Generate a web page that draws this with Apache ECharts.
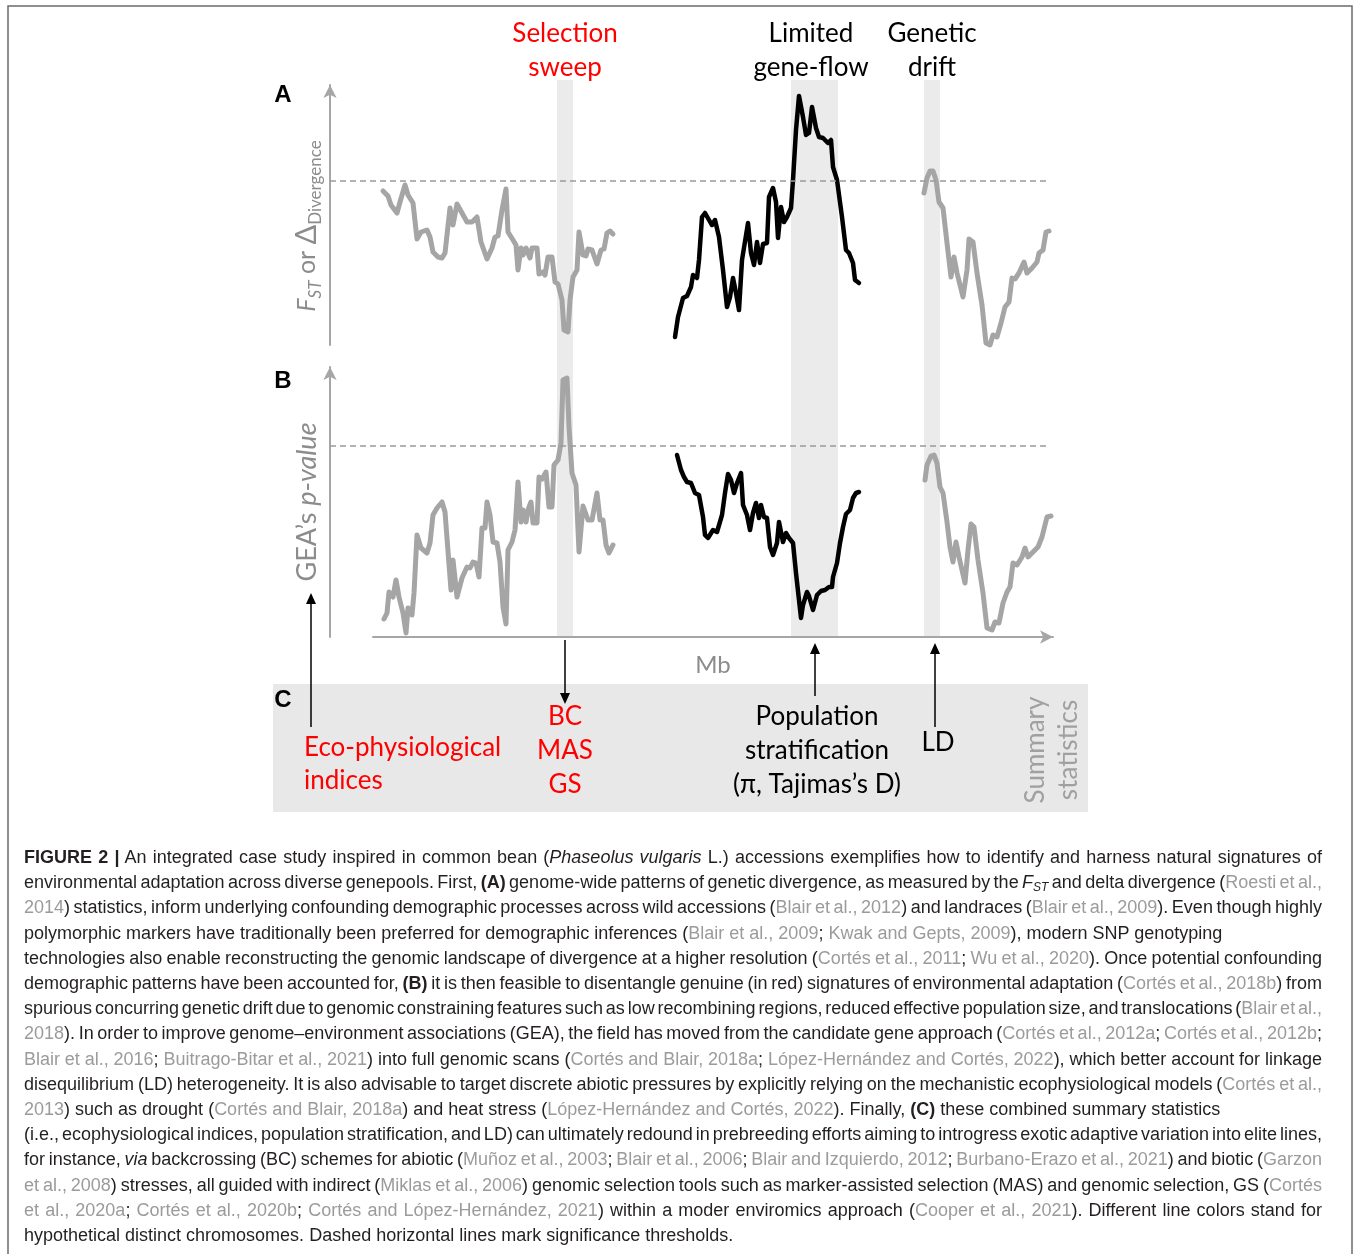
<!DOCTYPE html>
<html>
<head>
<meta charset="utf-8">
<title>Figure 2</title>
<script src="https://cdn.jsdelivr.net/npm/echarts@6/dist/echarts.min.js"></script>
<style>
body { margin: 0; background: #fff; }
#wrap { position: relative; width: 1354px; height: 1254px; overflow: hidden; }
#main { position: absolute; left: 0; top: 0; width: 1354px; height: 1254px; }
#cap { position: absolute; left: 24px; top: 845px; width: 1298px;
  font-family: "Liberation Sans", Arial, sans-serif; font-size: 18px; line-height: 25.2px; color: #231f20; }
#cap .ln { white-space: nowrap; }
#cap .g { color: #9b9b9b; }
#cap sub { font-size: 12px; line-height: 0; vertical-align: -3px; }
</style>
</head>
<body>
<div id="wrap">
  <div id="main"></div>
  <div id="cap">
    <div class="ln"><span class="in"><b>FIGURE 2 |</b> An integrated case study inspired in common bean (<i>Phaseolus vulgaris</i> L.) accessions exemplifies how to identify and harness natural signatures of</span></div>
    <div class="ln"><span class="in">environmental adaptation across diverse genepools. First, <b>(A)</b> genome-wide patterns of genetic divergence, as measured by the <i>F</i><sub><i>ST</i></sub> and delta divergence (<span class="g">Roesti et al.,</span></span></div>
    <div class="ln"><span class="in"><span class="g">2014</span>) statistics, inform underlying confounding demographic processes across wild accessions (<span class="g">Blair et al., 2012</span>) and landraces (<span class="g">Blair et al., 2009</span>). Even though highly</span></div>
    <div class="ln last"><span class="in">polymorphic markers have traditionally been preferred for demographic inferences (<span class="g">Blair et al., 2009</span>; <span class="g">Kwak and Gepts, 2009</span>), modern SNP genotyping</span></div>
    <div class="ln"><span class="in">technologies also enable reconstructing the genomic landscape of divergence at a higher resolution (<span class="g">Cortés et al., 2011</span>; <span class="g">Wu et al., 2020</span>). Once potential confounding</span></div>
    <div class="ln"><span class="in">demographic patterns have been accounted for, <b>(B)</b> it is then feasible to disentangle genuine (in red) signatures of environmental adaptation (<span class="g">Cortés et al., 2018b</span>) from</span></div>
    <div class="ln"><span class="in">spurious concurring genetic drift due to genomic constraining features such as low recombining regions, reduced effective population size, and translocations (<span class="g">Blair et al.,</span></span></div>
    <div class="ln"><span class="in"><span class="g">2018</span>). In order to improve genome–environment associations (GEA), the field has moved from the candidate gene approach (<span class="g">Cortés et al., 2012a</span>; <span class="g">Cortés et al., 2012b</span>;</span></div>
    <div class="ln"><span class="in"><span class="g">Blair et al., 2016</span>; <span class="g">Buitrago-Bitar et al., 2021</span>) into full genomic scans (<span class="g">Cortés and Blair, 2018a</span>; <span class="g">López-Hernández and Cortés, 2022</span>), which better account for linkage</span></div>
    <div class="ln"><span class="in">disequilibrium (LD) heterogeneity. It is also advisable to target discrete abiotic pressures by explicitly relying on the mechanistic ecophysiological models (<span class="g">Cortés et al.,</span></span></div>
    <div class="ln last"><span class="in"><span class="g">2013</span>) such as drought (<span class="g">Cortés and Blair, 2018a</span>) and heat stress (<span class="g">López-Hernández and Cortés, 2022</span>). Finally, <b>(C)</b> these combined summary statistics</span></div>
    <div class="ln"><span class="in">(i.e., ecophysiological indices, population stratification, and LD) can ultimately redound in prebreeding efforts aiming to introgress exotic adaptive variation into elite lines,</span></div>
    <div class="ln"><span class="in">for instance, <i>via</i> backcrossing (BC) schemes for abiotic (<span class="g">Muñoz et al., 2003</span>; <span class="g">Blair et al., 2006</span>; <span class="g">Blair and Izquierdo, 2012</span>; <span class="g">Burbano-Erazo et al., 2021</span>) and biotic (<span class="g">Garzon</span></span></div>
    <div class="ln"><span class="in"><span class="g">et al., 2008</span>) stresses, all guided with indirect (<span class="g">Miklas et al., 2006</span>) genomic selection tools such as marker-assisted selection (MAS) and genomic selection, GS (<span class="g">Cortés</span></span></div>
    <div class="ln"><span class="in"><span class="g">et al., 2020a</span>; <span class="g">Cortés et al., 2020b</span>; <span class="g">Cortés and López-Hernández, 2021</span>) within a moder enviromics approach (<span class="g">Cooper et al., 2021</span>). Different line colors stand for</span></div>
    <div class="ln last"><span class="in">hypothetical distinct chromosomes. Dashed horizontal lines mark significance thresholds.</span></div>
  </div>
</div>
<script>
// panel A: Fst / delta divergence along the genome (x in Mb, y arbitrary units)
var fstGray1 = [[1.0,15.4],[1.5,14.9],[1.8,14.0],[2.0,14.0],[2.4,13.2],[2.7,14.3],[3.2,16.0],[3.5,15.0],[3.7,15.2],[4.0,14.2],[4.4,10.6],[4.8,11.3],[5.4,11.5],[5.7,10.8],[6.0,9.3],[6.5,8.8],[6.9,8.7],[7.2,9.2],[7.7,13.7],[8.0,12.0],[8.4,14.1],[8.9,13.2],[9.4,12.3],[9.9,12.3],[10.4,12.8],[10.8,10.3],[11.0,10.2],[11.4,8.6],[11.9,9.7],[12.2,10.8],[12.5,10.9],[12.9,13.5],[13.3,15.6],[13.5,11.3],[14.0,10.5],[14.3,10.0],[14.5,7.5],[14.8,9.7],[15.0,9.0],[15.3,9.7],[15.7,8.7],[15.9,9.7],[16.4,9.7],[16.6,7.1],[17.0,7.3],[17.2,7.0],[17.5,8.8],[17.9,8.8],[18.2,6.3],[18.5,6.1],[18.9,4.5],[19.1,1.5],[19.5,1.3],[19.7,4.5],[20.0,6.8],[20.4,7.5],[20.6,11.3],[21.0,9.0],[21.3,8.9],[21.5,9.6],[21.9,9.5],[22.4,8.1],[22.8,9.5],[23.1,9.6],[23.4,11.2],[23.7,11.4],[24.0,11.1]];
var fstBlack = [[30.2,0.8],[30.5,2.8],[31.0,4.7],[31.4,4.9],[31.8,5.8],[32.0,7.0],[32.4,6.7],[32.6,8.5],[32.9,12.8],[33.2,13.2],[33.6,12.5],[33.9,12.0],[34.2,12.5],[34.6,10.8],[35.0,7.5],[35.4,3.8],[35.7,4.8],[36.0,6.7],[36.3,5.2],[36.6,3.5],[36.9,8.5],[37.5,12.2],[37.8,9.2],[38.1,8.0],[38.4,10.3],[38.7,8.2],[39.0,10.1],[39.4,10.2],[39.6,14.8],[40.0,15.7],[40.3,14.3],[40.5,10.7],[40.8,13.8],[41.1,12.3],[41.4,12.8],[41.8,13.7],[42.0,16.5],[42.3,21.5],[42.6,24.9],[43.0,22.8],[43.3,21.0],[43.6,21.2],[43.9,23.8],[44.3,21.7],[44.6,20.8],[45.0,20.7],[45.5,20.2],[45.8,20.5],[46.0,17.8],[46.4,16.5],[46.9,12.8],[47.3,9.5],[47.6,9.2],[48.0,8.2],[48.2,6.5],[48.6,6.2]];
var fstGray3 = [[55.1,15.2],[55.4,16.7],[55.7,17.4],[56.0,17.4],[56.3,16.5],[56.6,14.3],[57.0,13.7],[57.4,10.2],[57.8,6.8],[58.1,8.8],[58.4,7.2],[59.0,4.8],[59.4,7.5],[59.6,10.6],[60.0,10.3],[60.4,7.2],[60.9,4.0],[61.3,0.2],[61.7,0.0],[62.0,1.0],[62.4,0.8],[62.8,2.2],[63.2,3.8],[63.6,4.3],[63.9,6.7],[64.2,6.6],[64.6,7.2],[65.1,8.3],[65.4,7.2],[65.9,7.7],[66.4,8.3],[66.6,9.2],[67.0,9.5],[67.3,11.3],[67.6,11.4]];

// panel B: GEA p-value
var geaGray1 = [[1.1,1.8],[1.4,2.4],[1.6,4.5],[2.0,4.0],[2.3,5.7],[2.6,4.0],[3.0,2.4],[3.3,0.4],[3.5,2.9],[3.9,2.2],[4.1,4.4],[4.4,10.2],[4.8,8.9],[5.4,8.4],[5.7,9.4],[6.0,12.2],[6.4,12.9],[6.9,13.5],[7.2,12.5],[7.8,4.7],[8.0,7.7],[8.4,4.0],[8.9,5.9],[9.4,7.0],[9.7,6.9],[10.0,7.5],[10.3,7.4],[10.6,6.0],[10.9,10.9],[11.2,10.9],[11.4,13.5],[11.7,12.2],[12.0,9.5],[12.4,9.4],[12.7,7.5],[13.0,3.0],[13.3,1.3],[13.5,8.7],[13.9,9.5],[14.2,10.7],[14.5,15.5],[14.8,11.5],[15.0,12.7],[15.3,11.5],[15.5,12.7],[15.8,13.5],[16.0,11.4],[16.4,11.4],[16.6,16.0],[16.9,15.8],[17.3,16.5],[17.6,13.0],[17.9,13.0],[18.1,17.2],[18.5,17.7],[18.8,19.4],[19.0,25.7],[19.4,25.9],[19.6,21.0],[19.9,16.4],[20.3,15.2],[20.6,8.5],[21.0,13.1],[21.5,11.7],[21.9,11.7],[22.4,14.4],[22.7,11.7],[23.0,11.7],[23.3,9.2],[23.6,8.4],[24.0,9.2]];
var geaBlack = [[30.4,18.2],[30.8,16.7],[31.1,16.0],[31.4,15.5],[31.8,15.4],[32.2,14.4],[32.6,14.2],[33.0,12.0],[33.2,10.2],[33.5,9.9],[34.0,10.7],[34.4,10.5],[34.9,12.2],[35.2,14.4],[35.5,16.3],[35.8,15.7],[36.1,14.4],[36.4,15.4],[36.8,16.4],[37.0,13.2],[37.4,12.2],[37.7,10.7],[38.0,12.4],[38.3,13.4],[38.6,11.9],[38.8,13.2],[39.1,12.0],[39.4,11.9],[39.7,9.0],[40.0,8.2],[40.4,9.4],[40.6,11.5],[40.8,10.5],[41.0,9.5],[41.3,10.4],[41.6,9.9],[42.0,9.4],[42.3,6.4],[42.8,1.9],[43.0,3.2],[43.4,4.5],[43.6,4.1],[44.0,2.7],[44.4,4.2],[44.8,4.6],[45.2,4.7],[45.6,5.0],[45.9,5.0],[46.0,6.0],[46.4,7.4],[46.7,9.4],[47.0,11.0],[47.3,12.3],[47.7,12.7],[48.0,13.9],[48.3,14.4],[48.6,14.5]];
var geaGray3 = [[55.2,15.7],[55.4,17.2],[55.8,18.1],[56.1,18.2],[56.4,17.4],[56.7,15.0],[57.0,14.4],[57.4,11.5],[57.7,9.0],[58.0,7.5],[58.3,9.5],[58.6,8.0],[59.2,5.4],[59.5,8.7],[59.8,11.3],[60.1,11.0],[60.5,7.7],[61.0,4.4],[61.4,0.9],[61.9,0.7],[62.2,1.5],[62.6,1.4],[63.0,3.4],[63.4,4.5],[63.7,5.0],[64.0,7.4],[64.4,7.2],[64.9,8.0],[65.2,8.9],[65.5,8.0],[66.0,8.5],[66.5,9.0],[66.9,10.0],[67.1,10.0],[67.4,12.0],[67.8,12.1]];

// highlighted regions (Mb) and significance thresholds
var bandRanges = [[18.4, 20.0], [41.8, 46.5], [55.1, 56.7]];
var bandLabels = ['Selection\nsweep', 'Limited\ngene-flow', 'Genetic\ndrift'];
var thresholdA = 16.4;
var thresholdB = 19.1;
// arrows linking panel C to the plot: [x, from, to] in panel B units
var arrowsC = [[-6.2, -9.0, 4.4], [19.2, -0.3, -6.7], [44.2, -5.9, -0.6], [56.2, -9.0, -0.6]];

var axisGray = '#a6a6a6';
var lineGray = '#a5a5a5';
var figFont = 'Lato, "Open Sans", sans-serif';

function curve(data, color, gi) {
    return {
        type: 'line',
        data: data,
        xAxisIndex: gi,
        yAxisIndex: gi,
        showSymbol: false,
        clip: false,
        z: 3,
        lineStyle: { color: color, width: color === '#000' ? 4.5 : 5, cap: 'round', join: 'round' },
        silent: true
    };
}

function yAxisOf(gi, max, name, pad) {
    return {
        gridIndex: gi, type: 'value', min: 0, max: max, offset: 43,
        axisLine: { show: true, onZero: false, symbol: ['none', 'arrow'], symbolSize: [10, 13], lineStyle: { color: axisGray, width: 2 } },
        axisTick: { show: false }, axisLabel: { show: false }, splitLine: { show: false },
        name: name, nameLocation: 'middle', nameGap: 6,
        nameTextStyle: { color: '#8c8c8c', fontFamily: figFont, padding: pad, rich: nameRich }
    };
}

var nameRich = {
    t: { fontSize: 25, lineHeight: 34, color: '#8c8c8c', fontFamily: figFont, verticalAlign: 'middle' },
    i: { fontSize: 25, lineHeight: 34, color: '#8c8c8c', fontFamily: figFont, fontStyle: 'italic', verticalAlign: 'middle' },
    tb: { fontSize: 27, lineHeight: 34, color: '#8c8c8c', fontFamily: figFont, verticalAlign: 'middle' },
    ib: { fontSize: 27, lineHeight: 34, color: '#8c8c8c', fontFamily: figFont, fontStyle: 'italic', verticalAlign: 'middle' },
    d: { fontSize: 29, lineHeight: 34, color: '#8c8c8c', fontFamily: figFont, verticalAlign: 'middle' },
    si: { fontSize: 17, lineHeight: 17, color: '#8c8c8c', fontFamily: figFont, fontStyle: 'italic', verticalAlign: 'bottom' },
    s: { fontSize: 17, lineHeight: 17, color: '#8c8c8c', fontFamily: figFont, verticalAlign: 'bottom' }
};

function label(x, y, text, color, extra) {
    var st = { text: text, fontSize: 26, lineHeight: 34, fontFamily: figFont, fill: color, align: 'center', verticalAlign: 'middle' };
    if (extra) { for (var k in extra) st[k] = extra[k]; }
    return { type: 'text', x: x, y: y, silent: true, style: st };
}

function panelLetter(x, y, t) {
    return { type: 'text', x: x, y: y, silent: true, style: { text: t, fontSize: 24, fontWeight: 'bold', fontFamily: '"Liberation Sans", Arial', fill: '#000', align: 'center', verticalAlign: 'middle' } };
}

var graphics = [
    { type: 'rect', silent: true, z: -10, shape: { x: 8, y: 6, width: 1344, height: 1300 }, style: { fill: 'none', stroke: '#6b6b6b', lineWidth: 1.5 } },
    { type: 'rect', silent: true, z: -5, shape: { x: 273, y: 684, width: 815, height: 128 }, style: { fill: '#e8e8e8' } },
    panelLetter(283, 95, 'A'),
    panelLetter(283, 381, 'B'),
    panelLetter(283, 700, 'C'),
    label(565, 51, bandLabels[0], '#ff0000'),
    label(811, 51, bandLabels[1], '#000'),
    label(932, 51, bandLabels[2], '#000'),
    label(304, 764, 'Eco-physiological\nindices', '#ff0000', { align: 'left', lineHeight: 33 }),
    label(565, 751, 'BC\nMAS\nGS', '#ff0000'),
    label(817, 751, 'Population\nstratification\n(\u03c0, Tajimas\u2019s D)', '#000'),
    label(938, 743, 'LD', '#000'),
    (function () { var t = label(1052, 750, 'Summary\nstatistics', '#a0a0a0', { lineHeight: 33 }); t.rotation = Math.PI / 2; return t; })()
];

var chart = echarts.init(document.getElementById('main'));
chart.setOption({
    animation: false,
    backgroundColor: 'transparent',
    grid: [
        { left: 373, top: 85, width: 680, height: 260 },
        { left: 373, top: 367, width: 680, height: 270 }
    ],
    xAxis: [
        { gridIndex: 0, type: 'value', min: 0, max: 68, show: false },
        {
            gridIndex: 1, type: 'value', min: 0, max: 68,
            axisLine: { show: true, onZero: false, symbol: ['none', 'arrow'], symbolSize: [10, 13], lineStyle: { color: axisGray, width: 2 } },
            axisTick: { show: false }, axisLabel: { show: false }, splitLine: { show: false },
            name: 'Mb', nameLocation: 'middle', nameGap: 16,
            nameTextStyle: { color: '#8c8c8c', fontSize: 24, fontFamily: figFont }
        }
    ],
    yAxis: [
        yAxisOf(0, 26, '{i|F}{si|ST}{t| or }{d|\u0394}{s|Divergence}', [0, 22, 0, 0]),
        yAxisOf(1, 27, '{tb|GEA\u2019s }{ib|p-value}', [0, 0, 0, 0])
    ],
    series: [
        curve(fstGray1, lineGray, 0),
        curve(fstBlack, '#000', 0),
        curve(fstGray3, lineGray, 0),
        curve(geaGray1, lineGray, 1),
        curve(geaBlack, '#000', 1),
        curve(geaGray3, lineGray, 1)
    ],
    graphic: graphics
});

// bands, thresholds and arrows placed through the axes' own scales
function px(gi, x, y) { return chart.convertToPixel({ gridIndex: gi }, [x, y]); }
var extra = [];
bandRanges.forEach(function (b) {
    var p1 = px(0, b[0], 26.5), p2 = px(1, b[1], 0);
    extra.push({ type: 'rect', silent: true, z: 0, shape: { x: p1[0], y: p1[1], width: p2[0] - p1[0], height: p2[1] - p1[1] }, style: { fill: '#ebebeb' } });
});
[[0, thresholdA], [1, thresholdB]].forEach(function (t) {
    var a = px(t[0], -4.3, t[1]), b = px(t[0], 67.5, t[1]);
    extra.push({ type: 'line', silent: true, z: 4, shape: { x1: a[0], y1: a[1], x2: b[0], y2: b[1] }, style: { stroke: '#9a9a9a', lineWidth: 1.3, lineDash: [6, 4] } });
});
arrowsC.forEach(function (a) {
    var p = px(1, a[0], a[1]), q = px(1, a[0], a[2]);
    var dir = q[1] < p[1] ? 1 : -1; // 1 = pointing up
    var headLen = 11, headW = 5;
    extra.push({ type: 'line', silent: true, z: 4, shape: { x1: p[0], y1: p[1], x2: q[0], y2: q[1] + dir * headLen * 0.8 }, style: { stroke: '#000', lineWidth: 1.5 } });
    extra.push({ type: 'polygon', silent: true, z: 4, shape: { points: [[q[0], q[1]], [q[0] - headW, q[1] + dir * headLen], [q[0] + headW, q[1] + dir * headLen]] }, style: { fill: '#000' } });
});
chart.setOption({ graphic: graphics.concat(extra) });

// stretch or squeeze word spacing so caption lines fill the column like the printed figure
var capWidth = 1298;
document.querySelectorAll('#cap .ln').forEach(function (ln) {
    var inner = ln.querySelector('.in');
    var w = inner.getBoundingClientRect().width;
    var spaces = (inner.textContent.match(/ /g) || []).length;
    if (!spaces) return;
    if (!ln.classList.contains('last') || w > capWidth) {
        ln.style.wordSpacing = ((capWidth - w) / spaces) + 'px';
    }
});
</script>
</body>
</html>
